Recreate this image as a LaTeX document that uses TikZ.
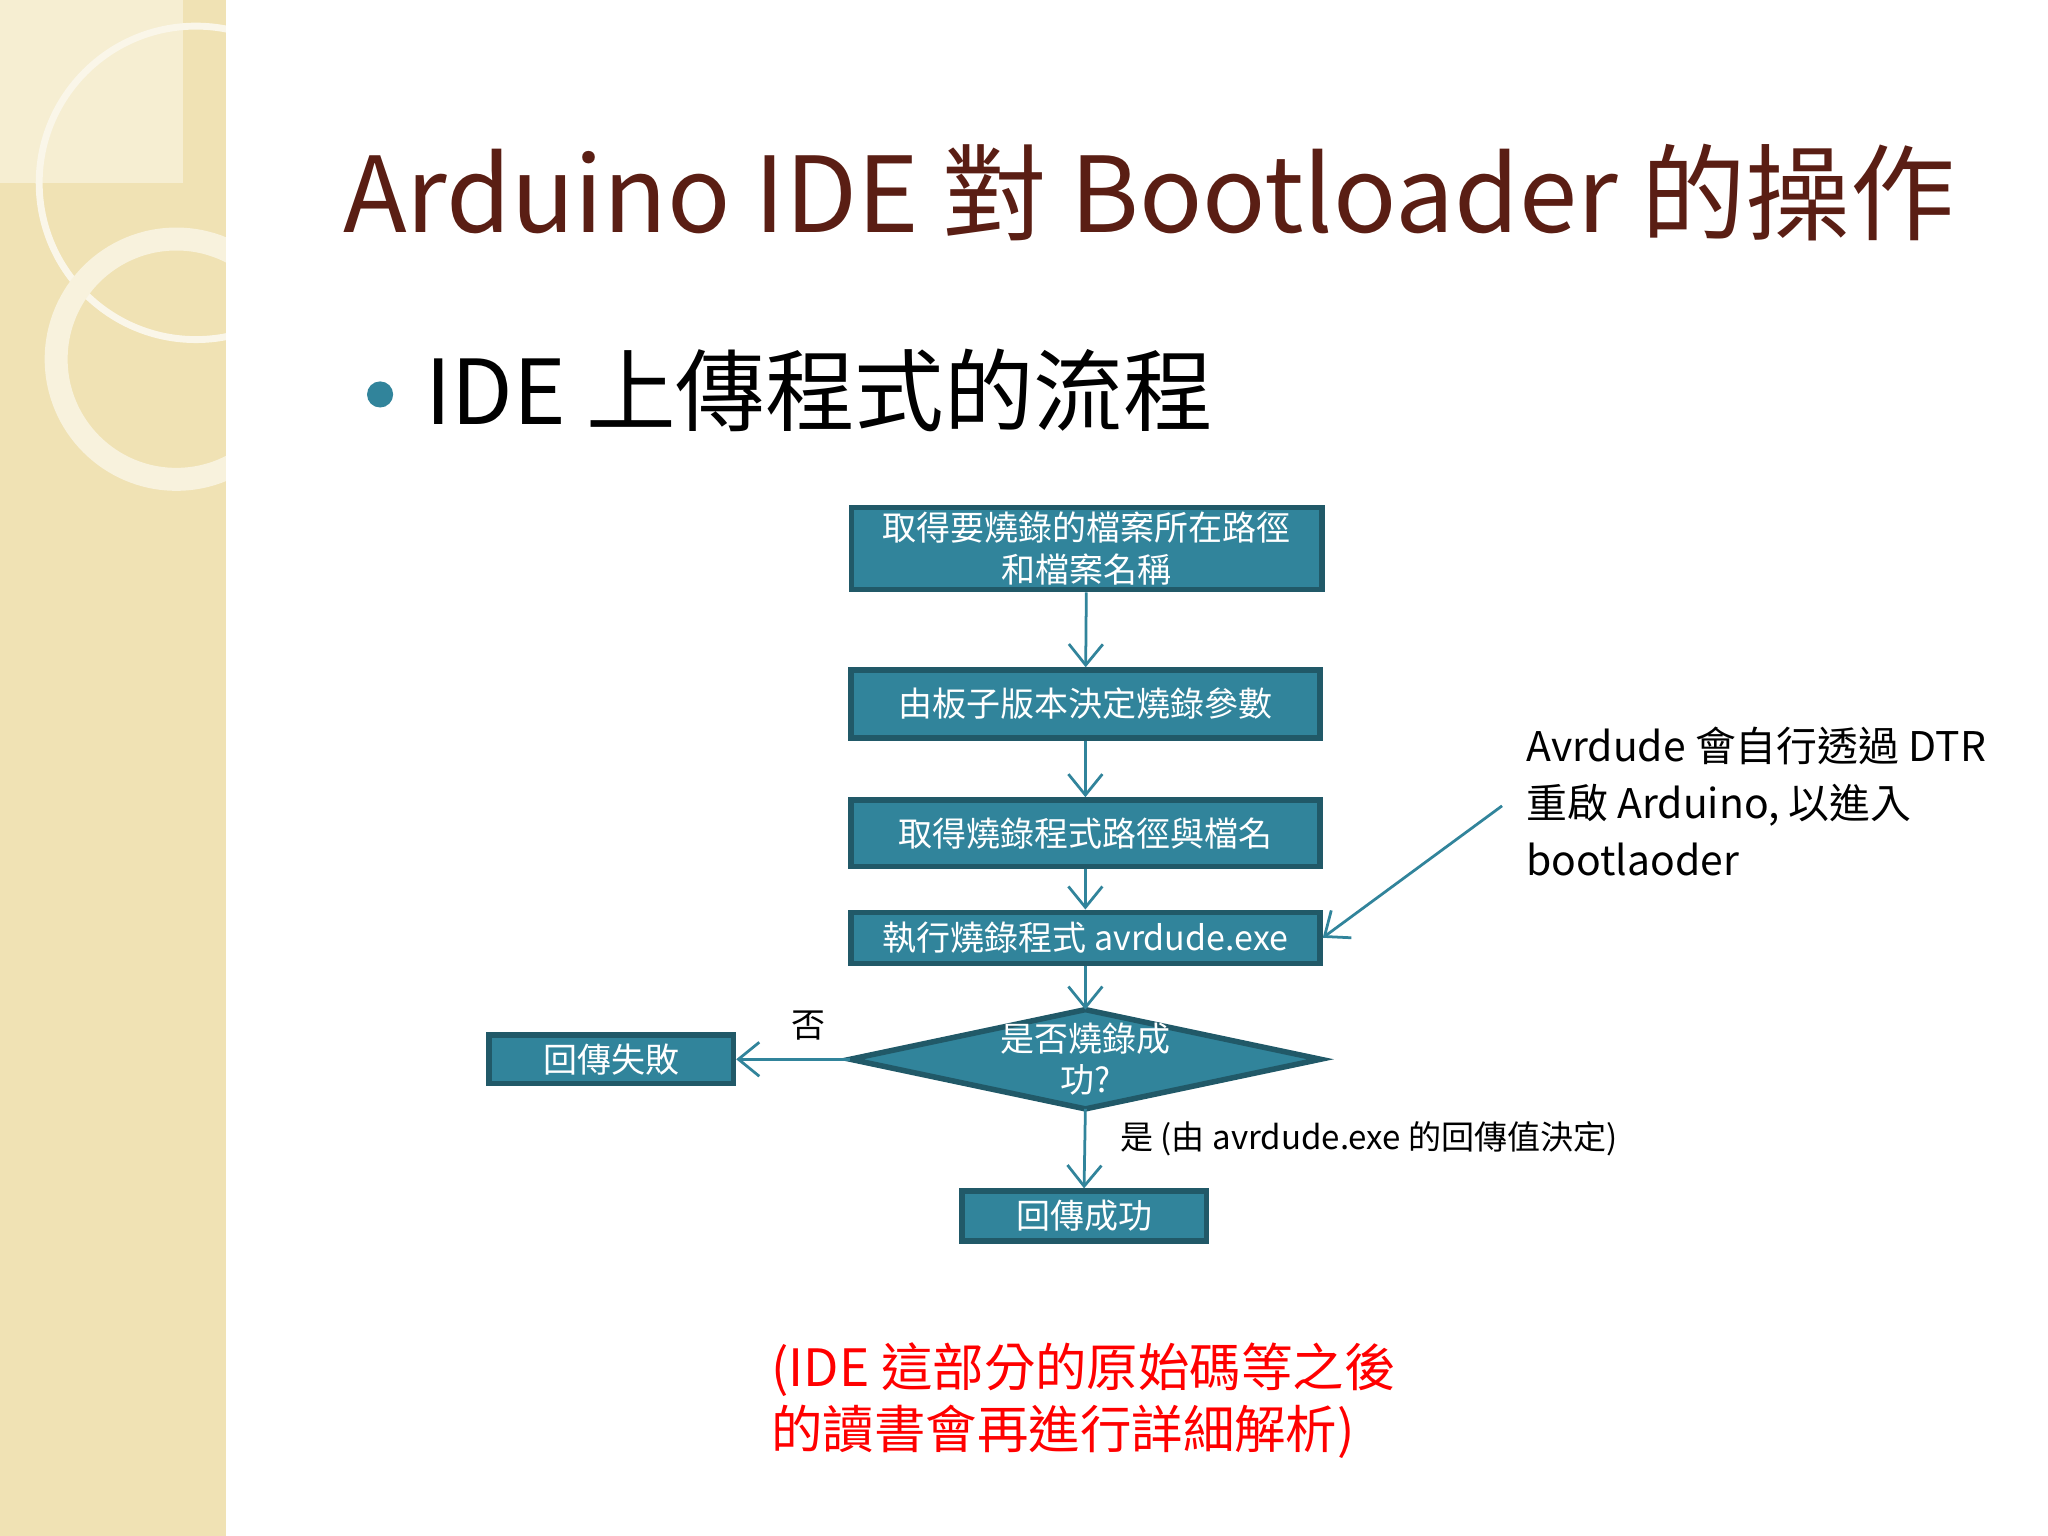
\documentclass[tikz,border=0pt]{standalone}
\usepackage{fontspec}
\setmainfont{Noto Sans CJK TC}
\usetikzlibrary{shapes.geometric,arrows.meta}
\definecolor{teal1}{RGB}{49,132,155}
\definecolor{tealdk}{RGB}{33,89,104}
\definecolor{beige}{RGB}{240,226,180}
\definecolor{brownt}{RGB}{90,30,20}
\tikzset{
 box/.style={draw=tealdk,line width=1.2pt,fill=teal1,text=white,font=\fontsize{7.4}{9}\selectfont,align=center,inner sep=0pt},
 flow/.style={draw=teal1,line width=0.6pt,-{Straight Barb[length=1.6mm,width=2.6mm]}}
}
\begin{document}
\begin{tikzpicture}[x=0.01cm,y=-0.01cm]
\useasboundingbox (0,0) rectangle (1568,1176);
\fill[white] (0,0) rectangle (1568,1176);
\fill[beige] (0,0) rectangle (173,1176);
\fill[beige!60!white] (0,0) rectangle (140,140);
\begin{scope}
\clip (0,0) rectangle (173,1176);
\draw[white!70!beige,line width=1.5pt] (150,140) circle (120);
\draw[white!55!beige,line width=5pt] (135,275) circle (92);
\end{scope}
\node[anchor=base west,text=brownt,font=\fontsize{22.8}{26}\selectfont,inner sep=0] (title) at (262,178) {Arduino IDE 對 Bootloader 的操作};
\fill[teal1] (291,302) circle (10);
\node[anchor=base west,font=\fontsize{19.5}{22}\selectfont,inner sep=0] (sub) at (325,325) {IDE 上傳程式的流程};
\node[box,minimum width=3.6cm,minimum height=0.63cm] (b1) at (832,420) {取得要燒錄的檔案所在路徑\\和檔案名稱};
\node[box,minimum width=3.59cm,minimum height=0.52cm] (b2) at (831,539) {由板子版本決定燒錄參數};
\node[box,minimum width=3.59cm,minimum height=0.51cm] (b3) at (831,638) {取得燒錄程式路徑與檔名};
\node[box,minimum width=3.59cm,minimum height=0.39cm] (b4) at (831,718) {執行燒錄程式 avrdude.exe};
\draw[draw=tealdk,line width=1.2pt,fill=teal1] (651,811) coordinate (dw) -- (831,773) coordinate (dn) -- (1011,811) coordinate (de) -- (831,849) coordinate (ds) -- cycle;
\node[text=white,font=\fontsize{7.4}{9}\selectfont,align=center] (dt) at (831,811) {是否燒錄成\\功?};
\node[box,minimum width=1.87cm,minimum height=0.37cm] (fail) at (468,811) {回傳失敗};
\node[box,minimum width=1.87cm,minimum height=0.38cm] (ok) at (830,931) {回傳成功};
\draw[flow] (b1) -- (b2);
\draw[flow] (b2) -- (b3);
\draw[flow] (b3) -- (b4);
\draw[flow] (b4) -- (dn);
\draw[flow] (dw) -- (fail.east);
\draw[flow] (ds) -- (ok.north);
\node[font=\fontsize{7.4}{9}\selectfont] (no) at (619,785) {否};
\node[anchor=west,font=\fontsize{7.2}{9}\selectfont,inner sep=0] (yes) at (857,872) {是 (由 avrdude.exe 的回傳值決定)};
\node[anchor=north west,align=left,font=\fontsize{8.9}{12.4}\selectfont,inner sep=0] (note) at (1168,556) {Avrdude 會自行透過 DTR\\重啟 Arduino, 以進入\\bootlaoder};
\coordinate (nt) at (1150,617);
\draw[flow] (nt) -- (b4.east);
\node[anchor=north west,align=left,text=red,font=\fontsize{11.2}{13.5}\selectfont,inner sep=0] (red) at (590,1027) {(IDE 這部分的原始碼等之後\\的讀書會再進行詳細解析)};
\end{tikzpicture}
\end{document}
